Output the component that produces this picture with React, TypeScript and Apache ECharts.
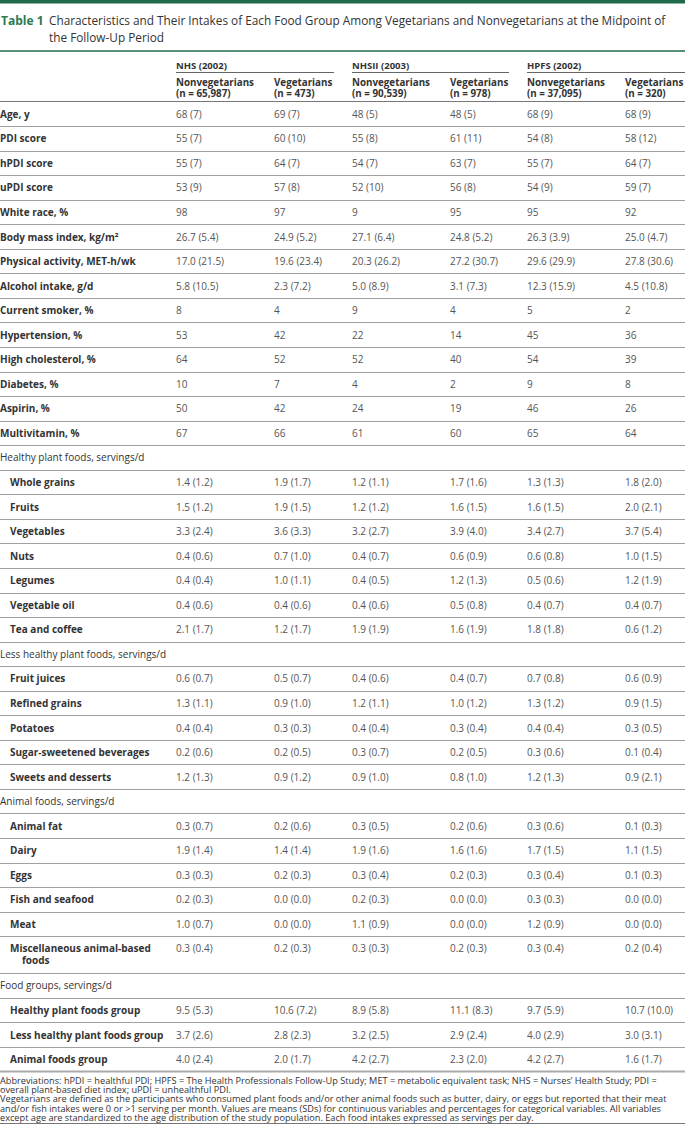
import React, { useEffect, useRef } from "react";
import * as echarts from "echarts";

const titleLabel = "Table 1";
const titleLines = [
  "Characteristics and Their Intakes of Each Food Group Among Vegetarians and Nonvegetarians at the Midpoint of",
  "the Follow-Up Period",
];
const cohorts = ["NHS (2002)", "NHSII (2003)", "HPFS (2002)"];
const groupHeaders = [
  ["Nonvegetarians", "(n = 65,987)"],
  ["Vegetarians", "(n = 473)"],
  ["Nonvegetarians", "(n = 90,539)"],
  ["Vegetarians", "(n = 978)"],
  ["Nonvegetarians", "(n = 37,095)"],
  ["Vegetarians", "(n = 320)"],
];

// r = top-level variable, s = section header, i = indented item
const rowLabels = [
  "Age, y", "PDI score", "hPDI score", "uPDI score", "White race, %", "Body mass index, kg/m²",
  "Physical activity, MET-h/wk", "Alcohol intake, g/d", "Current smoker, %", "Hypertension, %",
  "High cholesterol, %", "Diabetes, %", "Aspirin, %", "Multivitamin, %",
  "Healthy plant foods, servings/d", "Whole grains", "Fruits", "Vegetables", "Nuts", "Legumes",
  "Vegetable oil", "Tea and coffee",
  "Less healthy plant foods, servings/d", "Fruit juices", "Refined grains", "Potatoes",
  "Sugar-sweetened beverages", "Sweets and desserts",
  "Animal foods, servings/d", "Animal fat", "Dairy", "Eggs", "Fish and seafood", "Meat",
  "Miscellaneous animal-based\nfoods",
  "Food groups, servings/d", "Healthy plant foods group", "Less healthy plant foods group", "Animal foods group",
];
const rowKinds = [
  "r", "r", "r", "r", "r", "r", "r", "r", "r", "r", "r", "r", "r", "r",
  "s", "i", "i", "i", "i", "i", "i", "i",
  "s", "i", "i", "i", "i", "i",
  "s", "i", "i", "i", "i", "i", "i",
  "s", "i", "i", "i",
];

const nhsNonveg = ["68 (7)", "55 (7)", "55 (7)", "53 (9)", "98", "26.7 (5.4)", "17.0 (21.5)", "5.8 (10.5)", "8", "53", "64", "10", "50", "67", "", "1.4 (1.2)", "1.5 (1.2)", "3.3 (2.4)", "0.4 (0.6)", "0.4 (0.4)", "0.4 (0.6)", "2.1 (1.7)", "", "0.6 (0.7)", "1.3 (1.1)", "0.4 (0.4)", "0.2 (0.6)", "1.2 (1.3)", "", "0.3 (0.7)", "1.9 (1.4)", "0.3 (0.3)", "0.2 (0.3)", "1.0 (0.7)", "0.3 (0.4)", "", "9.5 (5.3)", "3.7 (2.6)", "4.0 (2.4)"];
const nhsVeg = ["69 (7)", "60 (10)", "64 (7)", "57 (8)", "97", "24.9 (5.2)", "19.6 (23.4)", "2.3 (7.2)", "4", "42", "52", "7", "42", "66", "", "1.9 (1.7)", "1.9 (1.5)", "3.6 (3.3)", "0.7 (1.0)", "1.0 (1.1)", "0.4 (0.6)", "1.2 (1.7)", "", "0.5 (0.7)", "0.9 (1.0)", "0.3 (0.3)", "0.2 (0.5)", "0.9 (1.2)", "", "0.2 (0.6)", "1.4 (1.4)", "0.2 (0.3)", "0.0 (0.0)", "0.0 (0.0)", "0.2 (0.3)", "", "10.6 (7.2)", "2.8 (2.3)", "2.0 (1.7)"];
const nhs2Nonveg = ["48 (5)", "55 (8)", "54 (7)", "52 (10)", "9", "27.1 (6.4)", "20.3 (26.2)", "5.0 (8.9)", "9", "22", "52", "4", "24", "61", "", "1.2 (1.1)", "1.2 (1.2)", "3.2 (2.7)", "0.4 (0.7)", "0.4 (0.5)", "0.4 (0.6)", "1.9 (1.9)", "", "0.4 (0.6)", "1.2 (1.1)", "0.4 (0.4)", "0.3 (0.7)", "0.9 (1.0)", "", "0.3 (0.5)", "1.9 (1.6)", "0.3 (0.4)", "0.2 (0.3)", "1.1 (0.9)", "0.3 (0.3)", "", "8.9 (5.8)", "3.2 (2.5)", "4.2 (2.7)"];
const nhs2Veg = ["48 (5)", "61 (11)", "63 (7)", "56 (8)", "95", "24.8 (5.2)", "27.2 (30.7)", "3.1 (7.3)", "4", "14", "40", "2", "19", "60", "", "1.7 (1.6)", "1.6 (1.5)", "3.9 (4.0)", "0.6 (0.9)", "1.2 (1.3)", "0.5 (0.8)", "1.6 (1.9)", "", "0.4 (0.7)", "1.0 (1.2)", "0.3 (0.4)", "0.2 (0.5)", "0.8 (1.0)", "", "0.2 (0.6)", "1.6 (1.6)", "0.2 (0.3)", "0.0 (0.0)", "0.0 (0.0)", "0.2 (0.3)", "", "11.1 (8.3)", "2.9 (2.4)", "2.3 (2.0)"];
const hpfsNonveg = ["68 (9)", "54 (8)", "55 (7)", "54 (9)", "95", "26.3 (3.9)", "29.6 (29.9)", "12.3 (15.9)", "5", "45", "54", "9", "46", "65", "", "1.3 (1.3)", "1.6 (1.5)", "3.4 (2.7)", "0.6 (0.8)", "0.5 (0.6)", "0.4 (0.7)", "1.8 (1.8)", "", "0.7 (0.8)", "1.3 (1.2)", "0.4 (0.4)", "0.3 (0.6)", "1.2 (1.3)", "", "0.3 (0.6)", "1.7 (1.5)", "0.3 (0.4)", "0.3 (0.3)", "1.2 (0.9)", "0.3 (0.4)", "", "9.7 (5.9)", "4.0 (2.9)", "4.2 (2.7)"];
const hpfsVeg = ["68 (9)", "58 (12)", "64 (7)", "59 (7)", "92", "25.0 (4.7)", "27.8 (30.6)", "4.5 (10.8)", "2", "36", "39", "8", "26", "64", "", "1.8 (2.0)", "2.0 (2.1)", "3.7 (5.4)", "1.0 (1.5)", "1.2 (1.9)", "0.4 (0.7)", "0.6 (1.2)", "", "0.6 (0.9)", "0.9 (1.5)", "0.3 (0.5)", "0.1 (0.4)", "0.9 (2.1)", "", "0.1 (0.3)", "1.1 (1.5)", "0.1 (0.3)", "0.0 (0.0)", "0.0 (0.0)", "0.2 (0.4)", "", "10.7 (10.0)", "3.0 (3.1)", "1.6 (1.7)"];

const footnoteLines = [
  "Abbreviations: hPDI = healthful PDI; HPFS = The Health Professionals Follow-Up Study; MET = metabolic equivalent task; NHS = Nurses’ Health Study; PDI =",
  "overall plant-based diet index; uPDI = unhealthful PDI.",
  "Vegetarians are defined as the participants who consumed plant foods and/or other animal foods such as butter, dairy, or eggs but reported that their meat",
  "and/or fish intakes were 0 or >1 serving per month. Values are means (SDs) for continuous variables and percentages for categorical variables. All variables",
  "except age are standardized to the age distribution of the study population. Each food intakes expressed as servings per day.",
];

const W = 685;
const H = 1124;
const FONT = '"Open Sans", "Noto Sans", sans-serif';

function buildGraphics() {
  const els: any[] = [];
  const text = (x: number, y: number, t: string, o: any = {}) =>
    els.push({
      type: "text",
      x,
      y,
      silent: true,
      style: {
        text: t,
        fill: o.fill || "#333",
        fontSize: o.size || 10,
        fontFamily: FONT,
        fontWeight: o.weight || "normal",
        align: o.align || "left",
        verticalAlign: o.va || "middle",
        lineHeight: o.lh || 10,
      },
    });
  const hline = (x1: number, x2: number, y: number, stroke: string, lw = 1) =>
    els.push({
      type: "line",
      silent: true,
      shape: { x1, y1: y, x2, y2: y },
      style: { stroke, lineWidth: lw },
    });

  // top bar
  els.push({ type: "rect", shape: { x: 0, y: 0, width: W, height: 3.5 }, style: { fill: "#1d6b48" }, silent: true });
  text(1, 20, titleLabel, { size: 12, weight: "bold", fill: "#2a7a52", lh: 13 });
  text(49, 20, titleLines[0], { size: 11.8, fill: "#333", lh: 13 });
  text(49, 36.5, titleLines[1], { size: 11.8, fill: "#333", lh: 13 });
  els.push({ type: "rect", shape: { x: 0, y: 50, width: W, height: 2 }, style: { fill: "#5a9176" }, silent: true });

  const colX = [176, 274, 352, 450, 527, 625];
  const groupEnd = [334, 509, 685];
  cohorts.forEach((c, k) => {
    text(colX[k * 2], 65, c, { size: 9.5, weight: "bold" });
    hline(colX[k * 2], groupEnd[k], 72.5, "#666");
  });
  groupHeaders.forEach((g, k) => {
    text(colX[k], 82, g[0], { size: 9.8, weight: "bold" });
    text(colX[k], 93.5, g[1], { size: 9.8, weight: "bold" });
  });
  hline(0, W, 101.5, "#777");

  const columns = [nhsNonveg, nhsVeg, nhs2Nonveg, nhs2Veg, hpfsNonveg, hpfsVeg];
  const pitch = 24.55;
  let top = 101.5;
  rowLabels.forEach((label, i) => {
    const kind = rowKinds[i];
    const lines = label.split("\n");
    const h = lines.length > 1 ? 37 : pitch;
    const cy = top + pitch / 2;
    const lx = kind === "i" ? 10 : 0;
    lines.forEach((ln, j) => {
      text(lx + (j > 0 ? 12 : 0), cy + j * 12, ln, {
        size: 10,
        weight: kind === "s" ? "normal" : "bold",
        fill: "#333",
      });
    });
    columns.forEach((col, k) => {
      if (col[i]) text(colX[k], cy, col[i], { size: 10, fill: "#555" });
    });
    top += h;
    const last = i === rowLabels.length - 1;
    hline(0, W, Math.round(top) + 0.5, last ? "#aaa" : "#a0a0a0", last ? 2 : 1);
  });

  // footnote as one multi-line text block
  text(0, top + 4, footnoteLines.join("\n"), { size: 9.2, fill: "#333", lh: 9.4, va: "top" });
  hline(0, W, 1123.5, "#777");
  return els;
}

export default function App() {
  const ref = useRef<HTMLDivElement>(null);
  useEffect(() => {
    if (!ref.current) return;
    const chart = echarts.init(ref.current, undefined, { renderer: "svg" });
    chart.setOption({
      animation: false,
      backgroundColor: "#ffffff",
      graphic: { elements: buildGraphics() },
    });
    return () => chart.dispose();
  }, []);
  return (
    <div
      ref={ref}
      style={{ position: "fixed", left: 0, top: 0, width: W, height: H, background: "#fff" }}
    />
  );
}
